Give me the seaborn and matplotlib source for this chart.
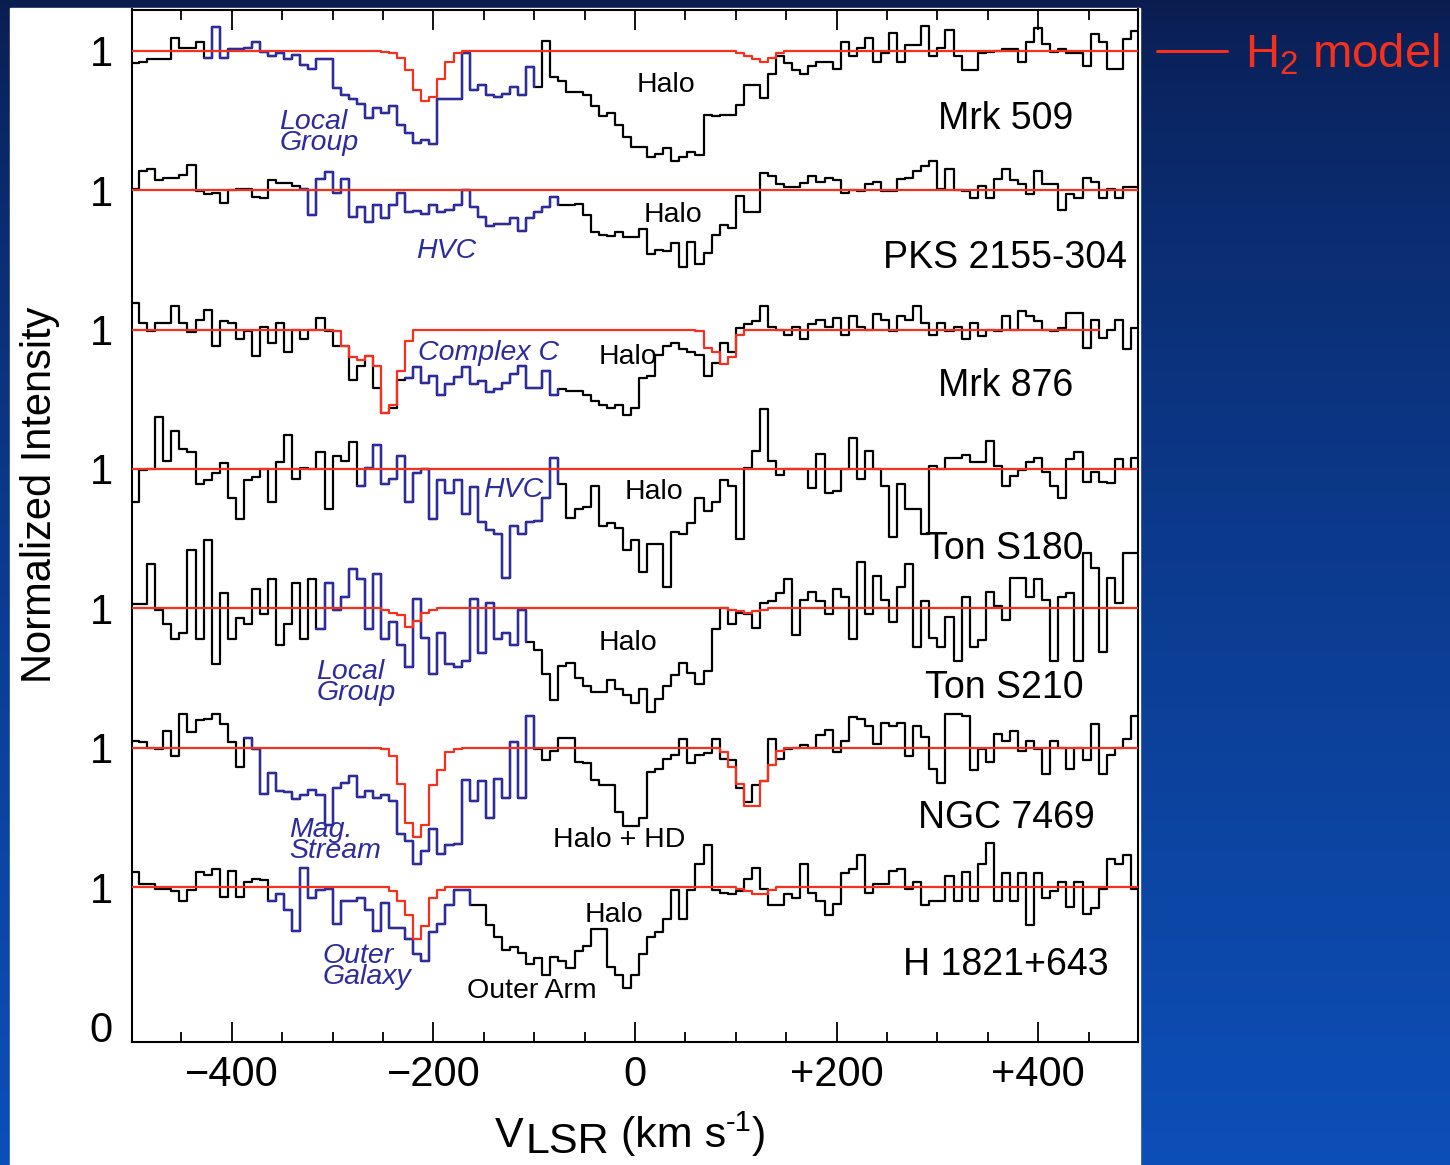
import numpy as np
import pandas as pd
import matplotlib
matplotlib.use("Agg")
import matplotlib.pyplot as plt
from matplotlib.lines import Line2D
from matplotlib.patches import Rectangle
import seaborn as sns

sns.set_style("ticks", {"axes.edgecolor": "black", "xtick.color": "black",
                        "ytick.color": "black", "text.color": "black"})
plt.rcParams["font.family"] = ["Liberation Sans", "DejaVu Sans"]
plt.rcParams["mathtext.fontset"] = "custom"
plt.rcParams["mathtext.rm"] = "Liberation Sans"

BLUE = "#2E2C9C"
RED = "#F5301C"

# 8 km/s velocity bins, left edges -500 ... 492 plus the closing edge
BIN_EDGES = np.arange(-500, 501, 8)

SOURCES = ["Mrk 509", "PKS 2155-304", "Mrk 876", "Ton S180",
           "Ton S210", "NGC 7469", "H 1821+643"]

MRK509 = [0.91, 0.92, 0.94, 0.94, 0.94, 1.09, 1.02, 1.02, 1.06, 0.95,
          1.17, 0.95, 1.01, 1.01, 1.02, 1.06, 0.99, 0.96, 0.98, 0.94,
          0.97, 0.90, 0.87, 0.94, 0.94, 0.73, 0.68, 0.65, 0.62, 0.52,
          0.59, 0.55, 0.60, 0.47, 0.41, 0.34, 0.36, 0.33, 0.65, 0.65,
          0.65, 0.98, 0.72, 0.75, 0.68, 0.67, 0.69, 0.74, 0.68, 0.88,
          0.74, 1.07, 0.81, 0.78, 0.70, 0.70, 0.68, 0.60, 0.53, 0.55,
          0.47, 0.38, 0.31, 0.31, 0.24, 0.26, 0.30, 0.21, 0.24, 0.27,
          0.25, 0.54, 0.53, 0.54, 0.54, 0.61, 0.75, 0.75, 0.66, 0.83,
          0.96, 0.91, 0.86, 0.83, 0.89, 0.92, 0.92, 0.87, 1.06, 0.96,
          1.02, 1.09, 0.92, 0.98, 1.13, 0.92, 1.04, 1.04, 1.18, 0.96,
          1.02, 1.15, 0.96, 0.86, 0.86, 0.98, 0.99, 1.00, 1.01, 1.01,
          0.92, 1.06, 1.16, 1.05, 0.99, 1.01, 0.98, 0.98, 0.89, 1.12,
          1.06, 0.87, 0.87, 1.08, 1.14]

PKS2155 = [1.01, 1.14, 1.15, 1.07, 1.09, 1.09, 1.11, 1.18, 0.99, 0.97,
           0.98, 0.91, 1.00, 1.01, 1.01, 0.95, 0.94, 1.07, 1.05, 1.05,
           1.03, 1.01, 0.82, 1.08, 1.13, 0.98, 1.08, 0.81, 0.88, 0.77,
           0.89, 0.80, 0.89, 0.98, 0.84, 0.85, 0.83, 0.89, 0.84, 0.86,
           0.89, 1.00, 0.88, 0.81, 0.74, 0.76, 0.76, 0.80, 0.71, 0.80,
           0.84, 0.88, 0.95, 0.89, 0.89, 0.90, 0.82, 0.70, 0.68, 0.67,
           0.70, 0.66, 0.66, 0.72, 0.54, 0.57, 0.56, 0.62, 0.45, 0.63,
           0.47, 0.55, 0.68, 0.75, 0.73, 0.96, 0.84, 0.84, 1.12, 1.10,
           1.04, 1.02, 1.02, 1.05, 1.10, 1.06, 1.09, 1.07, 0.98, 1.00,
           0.99, 1.04, 1.06, 0.99, 0.99, 1.08, 1.09, 1.14, 1.17, 1.21,
           1.01, 1.15, 1.00, 0.99, 0.94, 1.03, 0.94, 1.08, 1.15, 1.07,
           1.04, 0.97, 1.14, 1.04, 1.04, 0.86, 0.97, 0.94, 1.09, 1.06,
           0.94, 1.01, 0.94, 1.02, 1.02]

MRK876 = [1.19, 1.05, 0.99, 1.05, 1.05, 1.17, 1.05, 0.98, 1.07, 1.14,
          0.88, 1.06, 1.05, 0.93, 0.99, 0.81, 1.02, 0.90, 1.05, 0.84,
          1.00, 0.93, 1.00, 1.08, 0.99, 0.88, 0.88, 0.64, 0.74, 0.81,
          0.58, 0.40, 0.44, 0.64, 0.65, 0.73, 0.62, 0.67, 0.53, 0.61,
          0.66, 0.73, 0.61, 0.63, 0.55, 0.57, 0.62, 0.68, 0.74, 0.58,
          0.58, 0.70, 0.53, 0.57, 0.56, 0.56, 0.53, 0.49, 0.46, 0.44,
          0.46, 0.39, 0.44, 0.65, 0.67, 0.82, 0.88, 0.90, 0.86, 0.84,
          0.82, 0.67, 0.76, 0.90, 0.84, 1.01, 1.04, 1.06, 1.17, 1.02,
          1.00, 0.96, 1.02, 0.93, 1.04, 1.07, 1.02, 1.08, 0.96, 1.10,
          1.02, 1.00, 1.11, 1.07, 0.99, 1.10, 1.07, 1.17, 1.05, 0.96,
          1.05, 0.99, 1.02, 0.93, 1.05, 0.95, 1.00, 0.99, 1.10, 1.00,
          1.13, 1.10, 1.06, 1.00, 0.99, 1.01, 1.12, 1.12, 0.87, 1.07,
          0.94, 1.00, 1.07, 0.86, 1.01]

TONS180 = [0.76, 0.99, 1.00, 1.37, 1.06, 1.27, 1.14, 1.12, 0.89, 0.92,
           0.97, 1.04, 0.79, 0.64, 0.92, 0.94, 1.00, 0.76, 1.05, 1.24,
           0.93, 1.01, 1.00, 1.12, 0.71, 1.09, 1.06, 1.19, 0.88, 1.01,
           1.17, 0.89, 0.93, 1.09, 0.76, 0.97, 1.00, 0.64, 0.92, 0.83,
           0.92, 0.68, 0.87, 0.62, 0.56, 0.53, 0.22, 0.59, 0.53, 0.62,
           0.63, 0.79, 1.08, 0.89, 0.65, 0.71, 0.73, 0.88, 0.59, 0.61,
           0.58, 0.42, 0.49, 0.26, 0.46, 0.46, 0.15, 0.55, 0.53, 0.61,
           0.79, 0.70, 0.76, 0.92, 0.88, 0.50, 1.01, 1.13, 1.43, 1.06,
           0.96, 1.00, 1.00, 1.00, 0.86, 1.11, 0.83, 0.84, 1.00, 1.22,
           0.93, 1.13, 1.00, 0.88, 0.51, 0.89, 0.71, 0.71, 0.53, 1.02,
           1.00, 1.08, 1.08, 1.10, 1.05, 1.05, 1.20, 1.02, 0.88, 0.95,
           0.99, 1.05, 1.08, 0.98, 0.88, 0.79, 1.07, 1.12, 0.91, 0.98,
           0.91, 0.90, 1.07, 1.00, 1.08]

TONS210 = [1.03, 1.03, 1.32, 0.99, 0.89, 0.78, 0.82, 1.42, 0.78, 1.49,
           0.60, 1.11, 0.78, 0.93, 0.89, 1.14, 0.96, 1.21, 0.74, 0.89,
           1.18, 0.78, 1.21, 0.85, 1.18, 0.99, 1.08, 1.28, 1.21, 0.85,
           1.25, 0.78, 0.90, 0.74, 0.58, 1.07, 0.79, 0.53, 0.82, 0.60,
           0.58, 0.62, 1.07, 0.68, 1.04, 0.78, 0.82, 0.74, 0.99, 0.76,
           0.70, 0.53, 0.34, 0.59, 0.61, 0.50, 0.44, 0.40, 0.40, 0.49,
           0.42, 0.38, 0.32, 0.42, 0.26, 0.35, 0.44, 0.52, 0.61, 0.54,
           0.46, 0.55, 0.85, 1.00, 0.89, 0.97, 0.96, 0.86, 1.04, 1.05,
           1.11, 1.21, 0.81, 1.06, 1.12, 1.05, 0.96, 1.14, 1.08, 0.78,
           1.33, 0.96, 1.23, 1.06, 0.90, 1.15, 1.32, 0.72, 1.05, 0.79,
           0.72, 0.94, 0.62, 1.08, 0.72, 0.77, 1.12, 1.02, 0.92, 1.22,
           1.22, 1.08, 1.21, 1.06, 0.62, 1.08, 1.11, 0.62, 1.40, 1.29,
           0.69, 1.22, 1.04, 1.40, 1.40]

NGC7469 = [1.05, 1.04, 1.00, 0.99, 1.12, 0.94, 1.24, 1.11, 1.20, 1.21,
           1.24, 1.17, 1.04, 0.86, 1.07, 0.99, 0.67, 0.82, 0.69, 0.68,
           0.63, 0.66, 0.70, 0.66, 0.45, 0.71, 0.75, 0.80, 0.65, 0.69,
           0.64, 0.66, 0.62, 0.38, 0.33, 0.17, 0.26, 0.42, 0.24, 0.30,
           0.31, 0.77, 0.62, 0.76, 0.50, 0.78, 0.64, 1.04, 0.64, 1.23,
           0.99, 0.91, 0.98, 1.07, 1.07, 0.90, 0.89, 0.77, 0.73, 0.73,
           0.54, 0.44, 0.44, 0.50, 0.83, 0.85, 0.92, 0.95, 1.06, 0.89,
           0.95, 0.96, 1.06, 0.92, 0.91, 0.71, 0.61, 0.73, 0.76, 1.06,
           0.92, 0.99, 1.00, 1.02, 1.00, 1.09, 1.13, 0.97, 1.05, 1.22,
           1.21, 1.16, 1.03, 1.18, 1.16, 1.18, 0.94, 1.16, 1.08, 0.85,
           0.75, 1.24, 1.24, 1.23, 0.84, 0.99, 0.90, 1.10, 1.05, 1.12,
           0.98, 1.05, 0.99, 0.81, 1.05, 1.00, 0.85, 1.00, 0.91, 1.17,
           0.81, 0.95, 1.00, 1.06, 1.23]

H1821 = [1.11, 1.02, 1.02, 0.99, 0.99, 0.97, 0.90, 0.98, 1.11, 1.09,
         1.13, 0.93, 1.12, 0.93, 1.04, 1.06, 1.05, 0.90, 0.95, 0.84,
         0.69, 1.14, 0.92, 0.98, 0.99, 0.74, 0.90, 0.90, 0.92, 0.84,
         0.69, 0.89, 0.71, 0.71, 0.63, 0.52, 0.47, 0.68, 0.74, 0.87,
         0.98, 0.98, 0.87, 0.87, 0.73, 0.64, 0.55, 0.57, 0.53, 0.45,
         0.49, 0.37, 0.50, 0.47, 0.42, 0.54, 0.58, 0.70, 0.70, 0.43,
         0.37, 0.28, 0.37, 0.52, 0.64, 0.68, 0.77, 0.98, 0.77, 0.98,
         1.17, 1.30, 0.98, 0.96, 0.95, 0.97, 1.06, 1.14, 0.99, 0.87,
         0.87, 0.95, 0.92, 1.17, 0.96, 0.90, 0.80, 0.88, 1.10, 1.13,
         1.23, 0.96, 1.02, 1.02, 1.12, 1.13, 0.99, 1.04, 0.87, 0.90,
         0.90, 1.08, 0.90, 1.11, 0.90, 1.17, 1.32, 0.90, 1.10, 0.90,
         1.10, 0.73, 1.10, 0.92, 0.97, 1.04, 0.86, 1.04, 0.81, 0.85,
         0.99, 1.20, 1.17, 1.23, 0.99]

FLUX = [MRK509, PKS2155, MRK876, TONS180, TONS210, NGC7469, H1821]

# velocity range (km/s) of the intermediate/high-velocity gas drawn in blue
GAS_RANGES = [(-428, -100), (-332, -76), (-228, -76), (-276, -76),
              (-316, -108), (-388, -100), (-364, -164)]

# H2 model: unity except in these dips (start velocity, depths per bin)
MRK509_H2 = [(-252, [0.99, 0.98, 0.95, 0.86, 0.72, 0.64, 0.67, 0.80, 0.92, 0.98]),
             (100, [0.98, 0.96, 0.94, 0.92, 0.95, 0.98])]
MRK876_H2 = [(-300, [0.99, 0.88, 0.80, 0.78, 0.81, 0.74, 0.40, 0.46, 0.70, 0.92]),
             (60, [0.99, 0.87, 0.84, 0.75, 0.80, 0.96])]
TONS210_H2 = [(-252, [0.99, 0.97, 0.95, 0.87, 0.91, 0.97, 0.99]),
              (92, [0.99, 0.98, 0.97, 0.98, 0.99])]
NGC7469_H2 = [(-252, [0.99, 0.94, 0.74, 0.46, 0.36, 0.45, 0.73, 0.84, 0.97, 0.99]),
              (84, [0.97, 0.86, 0.74, 0.58, 0.58, 0.76, 0.88, 0.98])]
H1821_H2 = [(-244, [0.97, 0.90, 0.80, 0.63, 0.72, 0.92, 0.98]),
            (100, [0.99, 0.97, 0.95, 0.95, 0.98])]
H2_DIPS = [MRK509_H2, [], MRK876_H2, [], TONS210_H2, NGC7469_H2, H1821_H2]
H2_VMAX = [500, 500, 460, 500, 500, 500, 500]

# ---- long table: one row per bin edge, spectra stacked by +1 offsets ----
frames = []
for i, (name, flux) in enumerate(zip(SOURCES, FLUX)):
    off = len(SOURCES) - 1 - i
    flux = np.asarray(flux, dtype=float)
    model = np.ones_like(flux)
    for v0, depth in H2_DIPS[i]:
        k = (v0 - BIN_EDGES[0]) // 8
        model[k:k + len(depth)] = depth
    frames.append(pd.DataFrame({
        "source": name,
        "v": BIN_EDGES,
        "flux": np.append(flux, flux[-1]) + off,
        "h2": np.append(model, model[-1]) + off,
    }))
spec = pd.concat(frames, ignore_index=True)

W, H = 1450, 1165
fig = plt.figure(figsize=(W / 100, H / 100), dpi=100)

# slide background + white panel
bg = fig.add_axes([0, 0, 1, 1], zorder=-10)
bg.axis("off")
tt = np.linspace(0, 1, H)[:, None, None] ** 0.7
top_c = np.array([0.04, 0.11, 0.31])
bot_c = np.array([0.05, 0.31, 0.72])
grad = np.broadcast_to(top_c + (bot_c - top_c) * tt, (H, W, 3))
bg.imshow(grad, extent=[0, 1, 0, 1], aspect="auto")
bg.add_patch(Rectangle((10 / W, 0), 1130 / W, 1 - 8 / H,
                       transform=bg.transAxes, color="white", zorder=2))
bg.set_xlim(0, 1)
bg.set_ylim(0, 1)

ax = fig.add_axes([132 / W, 1 - 1041.5 / H, (1138 - 132) / W, (1041.5 - 9.5) / H])
ax.set_facecolor("none")

for i, name in enumerate(SOURCES):
    d = spec[spec["source"] == name]
    lo, hi = GAS_RANGES[i]
    sns.lineplot(data=d, x="v", y="flux", color="black", lw=1.6,
                 drawstyle="steps-post", estimator=None, sort=False, ax=ax, zorder=2)
    sns.lineplot(data=d[(d["v"] >= lo) & (d["v"] <= hi)], x="v", y="flux",
                 color=BLUE, lw=1.7, drawstyle="steps-post", estimator=None,
                 sort=False, ax=ax, zorder=3)
    sns.lineplot(data=d[d["v"] <= H2_VMAX[i]], x="v", y="h2", color=RED, lw=1.6,
                 drawstyle="steps-post", estimator=None, sort=False, ax=ax, zorder=4)

ax.set_xlim(-499, 499)
ax.set_ylim(-0.106, 7.295)
ax.set_xlabel("")
ax.set_ylabel("")

ax.set_xticks([-400, -200, 0, 200, 400],
              labels=["\u2212400", "\u2212200", "0", "+200", "+400"])
ax.set_xticks(np.arange(-450, 500, 50), minor=True)
ax.tick_params(axis="x", which="major", direction="in", length=14.4, width=1.3,
               top=True, labelsize=30, pad=10)
ax.tick_params(axis="x", which="minor", direction="in", length=7.2, width=1.3, top=True)
ax.set_yticks(range(8), labels=["0"] + ["1"] * 7)
ax.set_yticks([0], minor=True)
ax.tick_params(axis="y", which="major", length=0, labelsize=30, pad=14)
ax.tick_params(axis="y", which="minor", direction="in", length=9.4, width=1.3)
for sp in ax.spines.values():
    sp.set_linewidth(1.5)
    sp.set_color("black")

# plain labels: (text, velocity, baseline, ha, color, style, size)
notes = [
    ("Halo", 31, 6.70, "center", "black", "normal", 20.5),
    ("Mrk 509", 368, 6.44, "center", "black", "normal", 27),
    ("Halo", 38, 5.77, "center", "black", "normal", 20.5),
    ("HVC", -187, 5.51, "center", BLUE, "italic", 20.5),
    ("PKS 2155-304", 367, 5.44, "center", "black", "normal", 27),
    ("Complex C", -145, 4.78, "center", BLUE, "italic", 20.5),
    ("Halo", -7, 4.75, "center", "black", "normal", 20.5),
    ("Mrk 876", 368, 4.52, "center", "black", "normal", 27),
    ("HVC", -121, 3.80, "center", BLUE, "italic", 20.5),
    ("Halo", 19, 3.785, "center", "black", "normal", 20.5),
    ("Ton S180", 366, 3.354, "center", "black", "normal", 27),
    ("Halo", -7, 2.70, "center", "black", "normal", 20.5),
    ("Ton S210", 366, 2.355, "center", "black", "normal", 27),
    ("Halo + HD", -16, 1.291, "center", "black", "normal", 20.5),
    ("NGC 7469", 368, 1.423, "center", "black", "normal", 27),
    ("Halo", -21, 0.753, "center", "black", "normal", 20.5),
    ("Outer Arm", -102, 0.206, "center", "black", "normal", 20.5),
    ("H 1821+643", 368, 0.371, "center", "black", "normal", 27),
]
for txt, xv, yv, ha, col, style, size in notes:
    ax.text(xv, yv, txt, ha=ha, va="baseline", color=col, style=style,
            fontsize=size, zorder=5)

# two-line italic gas labels: (text, left velocity, block centre)
gas_notes = [
    ("Local\nGroup", -353, 6.412),
    ("Local\nGroup", -316, 2.470),
    ("Mag.\nStream", -343, 1.334),
    ("Outer\nGalaxy", -310, 0.430),
]
for txt, xv, yv in gas_notes:
    ax.text(xv, yv, txt, ha="left", va="center", multialignment="left",
            color=BLUE, style="italic", fontsize=20.5, linespacing=0.77, zorder=5)

# axis titles
fig.text(40 / W, 1 - 495 / H, "Normalized Intensity", rotation=90,
         fontsize=30, ha="center", va="center")
t = fig.text(495 / W, 1 - 1147 / H, "V", fontsize=31, va="baseline", ha="left")
t = ax.annotate("LSR", xy=(1, 0), xycoords=t, xytext=(1, -4),
                textcoords="offset points", fontsize=31, va="bottom",
                annotation_clip=False)
t = ax.annotate(" (km s", xy=(1, 0), xycoords=t, xytext=(0, 4),
                textcoords="offset points", fontsize=31, va="bottom",
                annotation_clip=False)
t = ax.annotate("-1", xy=(1, 0), xycoords=t, xytext=(0, 14),
                textcoords="offset points", fontsize=21, va="bottom",
                annotation_clip=False)
ax.annotate(")", xy=(1, 0), xycoords=t, xytext=(0, -14),
            textcoords="offset points", fontsize=31, va="bottom",
            annotation_clip=False)

# legend outside the panel
ax.legend(handles=[Line2D([], [], color=RED, lw=2.2)], labels=["H$_2$ model"],
          loc="center left", bbox_to_anchor=(1157 / W, 1 - 55 / H),
          bbox_transform=fig.transFigure, frameon=False, fontsize=34,
          labelcolor=RED, handlelength=1.48, handletextpad=0.38,
          borderpad=0, borderaxespad=0)

fig.savefig("out.png", dpi=100)
